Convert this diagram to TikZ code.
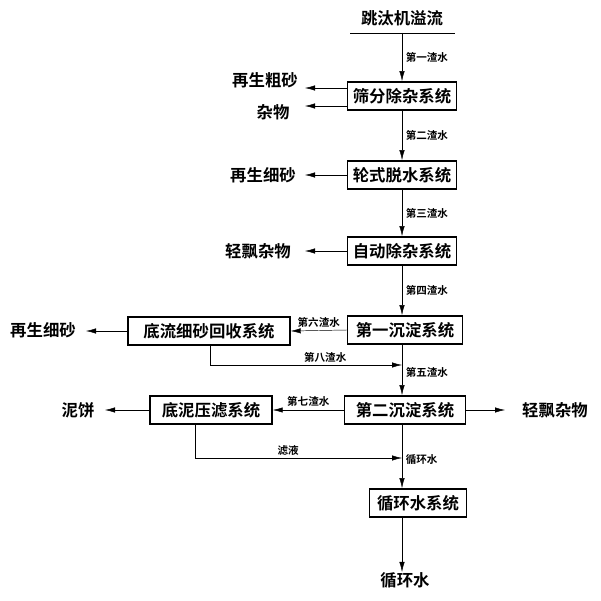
\documentclass[tikz,border=0pt]{standalone}
\usepackage{fontspec}
\setmainfont{Noto Sans CJK SC}[BoldFont={Noto Sans CJK SC Bold}]
\usetikzlibrary{arrows}
\usetikzlibrary{arrows.meta}
\begin{document}
\begin{tikzpicture}[x=0.03cm,y=-0.03cm,
    sysbox/.style={draw, very thick, inner sep=0, minimum height=0.85cm, font=\fontsize{14}{14}\selectfont\bfseries},
    txt/.style={inner sep=0, font=\fontsize{14}{14}\selectfont\bfseries},
    lbl/.style={inner sep=0, font=\fontsize{9}{9}\selectfont\bfseries},
    flow/.style={thin, -{Latex[length=3mm,width=1.6mm]}}
  ]
  \useasboundingbox (0,0) rectangle (600,601);
  \node[txt] (top) at (402,18) {跳汰机溢流};
  \coordinate (ta) at (350,33);
  \coordinate (tb) at (455,33);
  \draw[thick] (ta) -- (tb);
  \coordinate (tc) at (402,33);

  \node[sysbox, minimum width=3.27cm] (sf) at (402,96) {筛分除杂系统};
  \node[sysbox, minimum width=3.27cm] (lz) at (402,175) {轮式脱水系统};
  \node[sysbox, minimum width=3.27cm] (zd) at (402,251) {自动除杂系统};
  \node[sysbox, minimum width=3.45cm] (d1) at (405,330) {第一沉淀系统};
  \node[sysbox, minimum width=4.86cm] (dl) at (209,331) {底流细砂回收系统};
  \node[sysbox, minimum width=3.63cm] (d2) at (405,410) {第二沉淀系统};
  \node[sysbox, minimum width=3.66cm] (dn) at (211,410) {底泥压滤系统};
  \node[sysbox, minimum width=2.91cm] (xh) at (418,503) {循环水系统};

  \node[txt] (cs) at (265,80) {再生粗砂};
  \node[txt] (zw) at (273,112) {杂物};
  \node[txt] (xs1) at (263,175) {再生细砂};
  \node[txt] (qp1) at (258,251) {轻飘杂物};
  \node[txt] (xs2) at (43,330) {再生细砂};
  \node[txt] (nb) at (78,410) {泥饼};
  \node[txt] (qp2) at (555,410) {轻飘杂物};
  \node[txt] (xhs) at (405,580) {循环水};

  \draw[flow] (tc) -- (sf.north -| tc) node[lbl, midway, right=3pt] {第一渣水};
  \draw[flow] (sf.south -| tc) -- (lz.north -| tc) node[lbl, midway, right=3pt] {第二渣水};
  \draw[flow] (lz.south -| tc) -- (zd.north -| tc) node[lbl, midway, right=3pt] {第三渣水};
  \draw[flow] (zd.south -| tc) -- (d1.north -| tc) node[lbl, midway, right=3pt] {第四渣水};
  \draw[flow] (d1.south -| tc) -- (d2.north -| tc) node[lbl, pos=0.55, right=3pt] {第五渣水};
  \draw[flow] (d2.south -| tc) -- (xh.north -| tc) node[lbl, pos=0.55, right=3pt] {循环水};
  \draw[flow] (xh.south -| tc) -- (xhs.north -| tc);

  \draw[flow] (sf.west |- 0,88) -- (305,88);
  \draw[flow] (sf.west |- 0,106) -- (305,106);
  \draw[flow] (lz.west) -- (305,175);
  \draw[flow] (zd.west) -- (305,251);
  \draw[flow] (d1.west) -- (dl.east) node[lbl, midway, above=2pt] {第六渣水};
  \draw[flow] (dl.west) -- (86,331);
  \draw[flow] (d2.west) -- (dn.east) node[lbl, midway, above=3pt] {第七渣水};
  \draw[flow] (dn.west) -- (105,410);
  \draw[flow] (d2.east) -- (505,410);

  \coordinate (b8) at (210,365);
  \draw[flow] (dl.south -| b8) -- (b8) -- (b8 -| tc) node[lbl, pos=0.6, above=2pt] {第八渣水};
  \coordinate (bl) at (195,458);
  \draw[flow] (dn.south -| bl) -- (bl) -- (bl -| tc) node[lbl, pos=0.45, above=2pt] {滤液};
\end{tikzpicture}
\end{document}
